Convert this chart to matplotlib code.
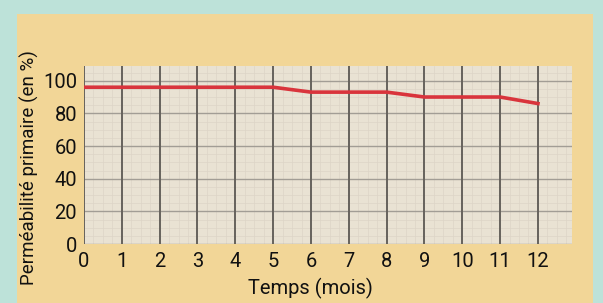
import matplotlib.pyplot as plt
from matplotlib.ticker import MultipleLocator

plt.rcParams['font.family'] = ['Roboto', 'DejaVu Sans']

mois = [0, 1, 2, 3, 4, 5, 6, 7, 8, 9, 10, 11, 12]
permeabilite = [96, 96, 96, 96, 96, 96, 93, 93, 93, 90, 90, 90, 86]
y_ticks = [0, 20, 40, 60, 80, 100]

fig = plt.figure(figsize=(6.03, 3.03), dpi=100, facecolor='#bde2d9')

# fond parchemin
bg = fig.add_axes([17 / 603, 0, 576 / 603, 289 / 303], zorder=-1)
bg.set_facecolor('#f2d697')
bg.set_xticks([])
bg.set_yticks([])
for s in bg.spines.values():
    s.set_visible(False)

ax = fig.add_axes([84 / 603, 59 / 303, 488 / 603, 178 / 303], zorder=1)
ax.set_facecolor('#e9e2d3')
ax.set_xlim(0, 12.9)
ax.set_ylim(0, 109)

ax.set_xticks(mois)
ax.set_yticks(y_ticks)
ax.xaxis.set_minor_locator(MultipleLocator(0.25))
ax.yaxis.set_minor_locator(MultipleLocator(5))
ax.grid(which='minor', color='#ddd5c7', linewidth=0.5, zorder=0.5)
ax.set_axisbelow(True)
# quadrillage principal par-dessus le fin
ax.hlines(y_ticks, 0, 12.9, color='#a29d95', linewidth=1.0, zorder=1)
ax.vlines(mois, 0, 109, color='#66625c', linewidth=1.4, zorder=1.5)

ax.plot(mois, permeabilite, color='#d9343c', linewidth=2.6, zorder=3)

ax.tick_params(which='both', length=0, labelsize=14.5, colors='#111111')
ax.tick_params(axis='x', pad=6)
ax.tick_params(axis='y', pad=5)
for s in ax.spines.values():
    s.set_visible(False)

ax.set_xlabel('Temps (mois)', fontsize=14.5, color='#111111')
ax.xaxis.set_label_coords(0.463, -0.19)
ax.set_ylabel('Perméabilité primaire (en %)', fontsize=13.5, color='#111111')
ax.yaxis.set_label_coords(-0.092, 0.427)

fig.savefig('out.png', dpi=100, facecolor=fig.get_facecolor())
